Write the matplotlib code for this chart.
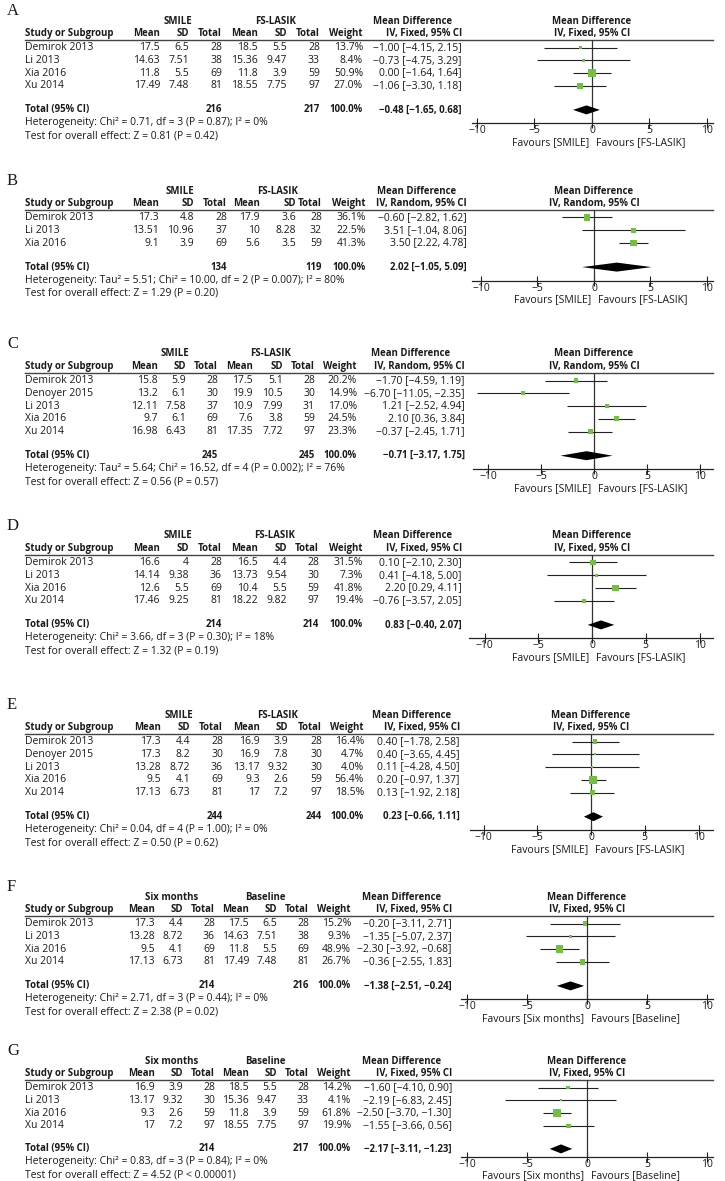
import numpy as np
import matplotlib
matplotlib.use("Agg")
import matplotlib.pyplot as plt

plt.rcParams["font.family"] = ["Open Sans", "DejaVu Sans"]
FS = 7.5      # plain text
FS_B = 6.9    # bold text

# ---------------- data ----------------
# each study: mean, SD, total for group 1 and group 2
A_study = ["Demirok 2013", "Li 2013", "Xia 2016", "Xu 2014"]
A_grp1 = [[17.5, 6.5, 28], [14.63, 7.51, 38], [11.8, 5.5, 69], [17.49, 7.48, 81]]
A_grp2 = [[18.5, 5.5, 28], [15.36, 9.47, 33], [11.8, 3.9, 59], [18.55, 7.75, 97]]
A_weight = [13.7, 8.4, 50.9, 27.0]
A_md = [-1.00, -0.73, 0.00, -1.06]
A_lo = [-4.15, -4.75, -1.64, -3.30]
A_hi = [2.15, 3.29, 1.64, 1.18]
A_total = [216, 217, -0.48, -1.65, 0.68]
A_het = "Heterogeneity: Chi² = 0.71, df = 3 (P = 0.87); I² = 0%"
A_z = "Test for overall effect: Z = 0.81 (P = 0.42)"

B_study = ["Demirok 2013", "Li 2013", "Xia 2016"]
B_grp1 = [[17.3, 4.8, 28], [13.51, 10.96, 37], [9.1, 3.9, 69]]
B_grp2 = [[17.9, 3.6, 28], [10, 8.28, 32], [5.6, 3.5, 59]]
B_weight = [36.1, 22.5, 41.3]
B_md = [-0.60, 3.51, 3.50]
B_lo = [-2.82, -1.04, 2.22]
B_hi = [1.62, 8.06, 4.78]
B_total = [134, 119, 2.02, -1.05, 5.09]
B_het = "Heterogeneity: Tau² = 5.51; Chi² = 10.00, df = 2 (P = 0.007); I² = 80%"
B_z = "Test for overall effect: Z = 1.29 (P = 0.20)"

C_study = ["Demirok 2013", "Denoyer 2015", "Li 2013", "Xia 2016", "Xu 2014"]
C_grp1 = [[15.8, 5.9, 28], [13.2, 6.1, 30], [12.11, 7.58, 37], [9.7, 6.1, 69], [16.98, 6.43, 81]]
C_grp2 = [[17.5, 5.1, 28], [19.9, 10.5, 30], [10.9, 7.99, 31], [7.6, 3.8, 59], [17.35, 7.72, 97]]
C_weight = [20.2, 14.9, 17.0, 24.5, 23.3]
C_md = [-1.70, -6.70, 1.21, 2.10, -0.37]
C_lo = [-4.59, -11.05, -2.52, 0.36, -2.45]
C_hi = [1.19, -2.35, 4.94, 3.84, 1.71]
C_total = [245, 245, -0.71, -3.17, 1.75]
C_het = "Heterogeneity: Tau² = 5.64; Chi² = 16.52, df = 4 (P = 0.002); I² = 76%"
C_z = "Test for overall effect: Z = 0.56 (P = 0.57)"

D_study = ["Demirok 2013", "Li 2013", "Xia 2016", "Xu 2014"]
D_grp1 = [[16.6, 4, 28], [14.14, 9.38, 36], [12.6, 5.5, 69], [17.46, 9.25, 81]]
D_grp2 = [[16.5, 4.4, 28], [13.73, 9.54, 30], [10.4, 5.5, 59], [18.22, 9.82, 97]]
D_weight = [31.5, 7.3, 41.8, 19.4]
D_md = [0.10, 0.41, 2.20, -0.76]
D_lo = [-2.10, -4.18, 0.29, -3.57]
D_hi = [2.30, 5.00, 4.11, 2.05]
D_total = [214, 214, 0.83, -0.40, 2.07]
D_het = "Heterogeneity: Chi² = 3.66, df = 3 (P = 0.30); I² = 18%"
D_z = "Test for overall effect: Z = 1.32 (P = 0.19)"

E_study = ["Demirok 2013", "Denoyer 2015", "Li 2013", "Xia 2016", "Xu 2014"]
E_grp1 = [[17.3, 4.4, 28], [17.3, 8.2, 30], [13.28, 8.72, 36], [9.5, 4.1, 69], [17.13, 6.73, 81]]
E_grp2 = [[16.9, 3.9, 28], [16.9, 7.8, 30], [13.17, 9.32, 30], [9.3, 2.6, 59], [17, 7.2, 97]]
E_weight = [16.4, 4.7, 4.0, 56.4, 18.5]
E_md = [0.40, 0.40, 0.11, 0.20, 0.13]
E_lo = [-1.78, -3.65, -4.28, -0.97, -1.92]
E_hi = [2.58, 4.45, 4.50, 1.37, 2.18]
E_total = [244, 244, 0.23, -0.66, 1.11]
E_het = "Heterogeneity: Chi² = 0.04, df = 4 (P = 1.00); I² = 0%"
E_z = "Test for overall effect: Z = 0.50 (P = 0.62)"

F_study = ["Demirok 2013", "Li 2013", "Xia 2016", "Xu 2014"]
F_grp1 = [[17.3, 4.4, 28], [13.28, 8.72, 36], [9.5, 4.1, 69], [17.13, 6.73, 81]]
F_grp2 = [[17.5, 6.5, 28], [14.63, 7.51, 38], [11.8, 5.5, 69], [17.49, 7.48, 81]]
F_weight = [15.2, 9.3, 48.9, 26.7]
F_md = [-0.20, -1.35, -2.30, -0.36]
F_lo = [-3.11, -5.07, -3.92, -2.55]
F_hi = [2.71, 2.37, -0.68, 1.83]
F_total = [214, 216, -1.38, -2.51, -0.24]
F_het = "Heterogeneity: Chi² = 2.71, df = 3 (P = 0.44); I² = 0%"
F_z = "Test for overall effect: Z = 2.38 (P = 0.02)"

G_study = ["Demirok 2013", "Li 2013", "Xia 2016", "Xu 2014"]
G_grp1 = [[16.9, 3.9, 28], [13.17, 9.32, 30], [9.3, 2.6, 59], [17, 7.2, 97]]
G_grp2 = [[18.5, 5.5, 28], [15.36, 9.47, 33], [11.8, 3.9, 59], [18.55, 7.75, 97]]
G_weight = [14.2, 4.1, 61.8, 19.9]
G_md = [-1.60, -2.19, -2.50, -1.55]
G_lo = [-4.10, -6.83, -3.70, -3.66]
G_hi = [0.90, 2.45, -1.30, 0.56]
G_total = [214, 217, -2.17, -3.11, -1.23]
G_het = "Heterogeneity: Chi² = 0.83, df = 3 (P = 0.84); I² = 0%"
G_z = "Test for overall effect: Z = 4.52 (P < 0.00001)"

groups_AE = ["SMILE", "FS-LASIK"]
groups_FG = ["Six months", "Baseline"]
methods = ["Fixed", "Random", "Random", "Fixed", "Fixed", "Fixed", "Fixed"]
ticks = [-10, -5, 0, 5, 10]

# ---------------- layout (pixels) ----------------
W, H = 725, 1181
line_y = [40, 210, 373, 555, 734, 916, 1080]
# forest axis: zero pixel, px per unit, axis line left end
zero_px = [592, 594, 594, 592, 591, 587, 587]
scale_px = [11.5, 11.3, 10.6, 10.75, 10.75, 12.0, 12.0]
ax_left = [472, 472, 473, 469, 470, 461, 461]
ax_right = 713
# right edges of table columns per panel
cols_all = [
    [160, 189, 222, 258, 287, 320, 363, 462],
    [159, 194, 227, 260, 296, 322, 366, 467],
    [158, 186, 218, 253, 283, 315, 357, 465],
    [160, 189, 222, 258, 287, 319, 363, 462],
    [161, 190, 223, 260, 288, 322, 364, 460],
    [155, 183, 215, 249, 277, 309, 351, 452],
    [155, 183, 215, 249, 277, 309, 351, 452],
]
PITCH = 12.8
GREEN = "#72bf44"
TXT = "#1a1a1a"

panels = []
for pre, grp in zip("ABCDEFG", [groups_AE] * 5 + [groups_FG] * 2):
    g = globals()
    panels.append(dict(letter=pre, study=g[pre + "_study"], grp1=g[pre + "_grp1"],
                       grp2=g[pre + "_grp2"], weight=g[pre + "_weight"], md=g[pre + "_md"],
                       lo=g[pre + "_lo"], hi=g[pre + "_hi"], total=g[pre + "_total"],
                       het=g[pre + "_het"], z=g[pre + "_z"], groups=grp))


def fmt(v):
    return f"{v:g}"


def ci_text(m, l, h):
    return f"{m:.2f} [{l:.2f}, {h:.2f}]".replace("-", "−")


fig = plt.figure(figsize=(W / 100, H / 100), dpi=100)
bg = fig.add_axes([0, 0, 1, 1])
bg.set_xlim(0, W)
bg.set_ylim(H, 0)
bg.axis("off")

for k, p in enumerate(panels):
    ly = line_y[k]
    cols = cols_all[k]
    n = len(p["study"])
    method = methods[k]
    last = k == len(panels) - 1
    row_px = [ly + 7.5 + PITCH * i for i in range(n)]
    tot_px = row_px[-1] + (23 if last else 24)
    axis_px = tot_px + (8.5 if last else 13.5)
    fav_px = min(axis_px + 19, H - 5)
    z_px = min(tot_px + 26, H - 6)

    # panel letter and headers
    bg.text(7, ly - 29, p["letter"], family=["Liberation Serif", "DejaVu Serif"],
            fontsize=12, va="center", ha="left", color=TXT)
    hb = dict(fontsize=FS_B, fontweight="bold", va="center", color=TXT)
    bg.text((cols[0] - 27 + cols[2]) / 2, ly - 19, p["groups"][0], ha="center", **hb)
    bg.text((cols[3] - 27 + cols[5]) / 2, ly - 19, p["groups"][1], ha="center", **hb)
    bg.text((cols[6] + cols[7]) / 2, ly - 19, "Mean Difference", ha="center", **hb)
    bg.text(zero_px[k], ly - 19, "Mean Difference", ha="center", **hb)
    bg.text(25, ly - 6.5, "Study or Subgroup", ha="left", **hb)
    for x, lab in zip(cols, ["Mean", "SD", "Total", "Mean", "SD", "Total", "Weight",
                             f"IV, {method}, 95% CI"]):
        bg.text(x, ly - 6.5, lab, ha="right", **hb)
    bg.text(zero_px[k], ly - 6.5, f"IV, {method}, 95% CI", ha="center", **hb)
    bg.plot([25, ax_right], [ly, ly], color="#444444", lw=1.0)

    # study rows
    nb = dict(fontsize=FS, va="center", color=TXT)
    for i in range(n):
        y = row_px[i]
        m1, s1, n1 = p["grp1"][i]
        m2, s2, n2 = p["grp2"][i]
        bg.text(25, y, p["study"][i], ha="left", **nb)
        vals = [fmt(m1), fmt(s1), str(n1), fmt(m2), fmt(s2), str(n2),
                f"{p['weight'][i]:.1f}%", ci_text(p["md"][i], p["lo"][i], p["hi"][i])]
        for x, v in zip(cols, vals):
            bg.text(x, y, v, ha="right", **nb)

    # total row
    t1, t2, tm, tl, th = p["total"]
    bg.text(25, tot_px, "Total (95% CI)", ha="left", **hb)
    bg.text(cols[2], tot_px, str(t1), ha="right", **hb)
    bg.text(cols[5], tot_px, str(t2), ha="right", **hb)
    bg.text(cols[6], tot_px, "100.0%", ha="right", **hb)
    bg.text(cols[7], tot_px, ci_text(tm, tl, th), ha="right", **hb)
    bg.text(25, tot_px + 13, p["het"], ha="left", **nb)
    bg.text(25, z_px, p["z"], ha="left", **nb)

    # forest plot axes
    x0 = (ax_left[k] - zero_px[k]) / scale_px[k]
    x1 = (ax_right - zero_px[k]) / scale_px[k]
    top_v = -7.5 / PITCH
    tot_v = (tot_px - row_px[0]) / PITCH
    bot_v = (axis_px - row_px[0]) / PITCH
    ax = fig.add_axes([ax_left[k] / W, 1 - axis_px / H,
                       (ax_right - ax_left[k]) / W, (axis_px - ly) / H])
    ax.patch.set_alpha(0)
    ax.set_xlim(x0, x1)
    ax.set_ylim(bot_v, top_v)
    for s in ["top", "left", "right"]:
        ax.spines[s].set_visible(False)
    ax.spines["bottom"].set_linewidth(0.9)
    ax.spines["bottom"].set_color("#222222")
    ax.set_yticks([])
    ax.set_xticks(ticks)
    ax.set_xticklabels([str(t).replace("-", "−") for t in ticks], fontsize=FS, color=TXT)
    ax.tick_params(axis="x", direction="inout", length=7, width=0.8, pad=-2,
                   color="#222222")
    ax.axvline(0, color="#333333", lw=0.9)

    rows = np.arange(n)
    ax.hlines(rows, p["lo"], p["hi"], color="#222222", lw=0.8, clip_on=False)
    side_pt = 1.05 * np.sqrt(np.array(p["weight"])) * 0.72
    ax.scatter(p["md"], rows, marker="s", s=side_pt ** 2, color=GREEN,
               linewidths=0, zorder=3, clip_on=False)
    h = 4.5 / PITCH
    ax.fill([tl, tm, th, tm], [tot_v, tot_v - h, tot_v, tot_v + h], color="black",
            lw=0, zorder=3)

    # favours labels
    bg.text(zero_px[k] - 3, fav_px, f"Favours [{p['groups'][0]}]", ha="right", **nb)
    bg.text(zero_px[k] + 4, fav_px, f"Favours [{p['groups'][1]}]", ha="left", **nb)

fig.savefig("out.png", dpi=100)
